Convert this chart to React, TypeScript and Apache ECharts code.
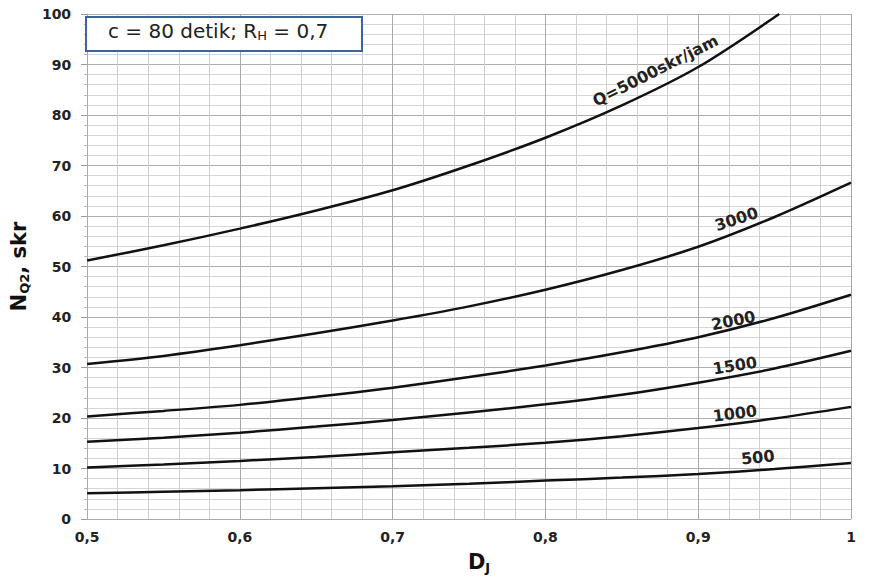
import React, { useEffect, useRef } from "react";
import * as echarts from "echarts";

const dj = [0.5, 0.55, 0.6, 0.65, 0.7, 0.75, 0.8, 0.85, 0.9, 0.95, 1.0];
const dj5000 = [0.5, 0.55, 0.6, 0.65, 0.7, 0.75, 0.8, 0.85, 0.9, 0.953];
const q5000 = [51.2, 54.2, 57.5, 61.1, 65.1, 70.0, 75.5, 81.9, 89.5, 100];
const q3000 = [30.7, 32.3, 34.4, 36.8, 39.3, 42.1, 45.4, 49.3, 53.9, 59.8, 66.6];
const q2000 = [20.3, 21.4, 22.6, 24.2, 26.0, 28.1, 30.4, 33.0, 36.0, 39.8, 44.4];
const q1500 = [15.3, 16.1, 17.1, 18.3, 19.6, 21.1, 22.7, 24.6, 27.0, 29.8, 33.3];
const q1000 = [10.2, 10.8, 11.5, 12.3, 13.2, 14.1, 15.1, 16.4, 18.0, 19.9, 22.2];
const q500 = [5.1, 5.4, 5.7, 6.1, 6.5, 7.0, 7.6, 8.2, 8.9, 9.9, 11.1];

const curveLabels = ["Q=5000skr/jam", "3000", "2000", "1500", "1000", "500"];
const labelX = [0.872, 0.925, 0.923, 0.924, 0.924, 0.939];
const labelY = [88.8, 59.4, 39.3, 30.4, 20.9, 12.2];
const labelRot = [27, 18, 11, 9, 7, 6];

const FONT = "DejaVu Sans";

export default function App() {
  const ref = useRef<HTMLDivElement>(null);
  useEffect(() => {
    const chart = echarts.init(ref.current!, null, { renderer: "svg" });
    const xs = [dj5000, dj, dj, dj, dj, dj];
    const ys = [q5000, q3000, q2000, q1500, q1000, q500];
    const series = ys.map((vals, i) => ({
      type: "line",
      smooth: 0.3,
      symbol: "none",
      lineStyle: { color: "#111", width: 2.5 },
      data: vals.map((v, j) => [xs[i][j], v]),
      z: 5,
      markPoint: {
        symbol: "circle",
        symbolSize: 0,
        silent: true,
        data: [
          {
            coord: [labelX[i], labelY[i]],
            label: {
              show: true,
              position: "inside",
              formatter: curveLabels[i],
              rotate: labelRot[i],
              fontFamily: FONT,
              fontWeight: "bold",
              fontSize: 16,
              color: "#222",
            },
          },
        ],
      },
    }));
    chart.setOption({
      animation: false,
      backgroundColor: "#fff",
      grid: { left: 86, right: 22, top: 14, bottom: 63 },
      xAxis: {
        type: "value",
        min: 0.5,
        max: 1,
        interval: 0.1,
        name: "D{sub|J}",
        nameLocation: "middle",
        nameGap: 30,
        nameTextStyle: {
          fontFamily: FONT,
          fontWeight: "bold",
          fontSize: 21,
          color: "#111",
          padding: [0, 0, 0, 20],
          rich: {
            sub: { fontFamily: FONT, fontWeight: "bold", fontSize: 13, color: "#111", padding: [12, 0, 0, 0] },
          },
        },
        axisLine: { show: true, lineStyle: { color: "#aaa", width: 1 } },
        axisTick: { show: false },
        axisLabel: {
          margin: 11,
          fontFamily: FONT,
          fontWeight: "bold",
          fontSize: 14,
          color: "#222",
          formatter: (v: number) => (Math.abs(v - 1) < 1e-9 ? "1" : v.toFixed(1).replace(".", ",")),
        },
        splitLine: { show: true, lineStyle: { color: "#a8a8a8", width: 1 } },
        minorTick: { show: false, splitNumber: 5 },
        minorSplitLine: { show: true, lineStyle: { color: "#cfcfcf", width: 1 } },
      },
      yAxis: {
        type: "value",
        min: 0,
        max: 100,
        interval: 10,
        name: "N{sub|Q2}, skr",
        nameLocation: "middle",
        nameGap: 49,
        nameTextStyle: {
          fontFamily: FONT,
          fontWeight: "bold",
          fontSize: 21,
          color: "#111",
          rich: {
            sub: { fontFamily: FONT, fontWeight: "bold", fontSize: 13, color: "#111", padding: [12, 0, 0, 0] },
          },
        },
        axisLine: { show: true, lineStyle: { color: "#aaa", width: 1 } },
        axisTick: { show: true, length: 6, lineStyle: { color: "#999" } },
        minorTick: { show: true, splitNumber: 5, length: 3, lineStyle: { color: "#bbb" } },
        axisLabel: {
          margin: 16,
          fontFamily: FONT,
          fontWeight: "bold",
          fontSize: 14,
          color: "#222",
        },
        splitLine: { show: true, lineStyle: { color: "#b0b0b0", width: 1 } },
        minorSplitLine: { show: true, lineStyle: { color: "#d6d6d6", width: 1 } },
      },
      graphic: [
        {
          type: "rect",
          left: 85,
          top: 16,
          shape: { width: 276, height: 34 },
          style: { fill: "#fff", stroke: "#3a6596", lineWidth: 2 },
          z: 100,
        },
        {
          type: "text",
          left: 108,
          top: 21,
          z: 101,
          style: {
            text: "c = 80 detik; R{sub|H} = 0,7",
            fontFamily: FONT,
            fontSize: 20,
            fill: "#222",
            rich: {
              sub: { fontFamily: FONT, fontSize: 13, fill: "#222", padding: [9, 0, 0, 0] },
            },
          },
        },
      ],
      series,
    });
    return () => chart.dispose();
  }, []);
  return <div ref={ref} style={{ width: 873, height: 582, position: "absolute", left: 0, top: 0 }} />;
}
